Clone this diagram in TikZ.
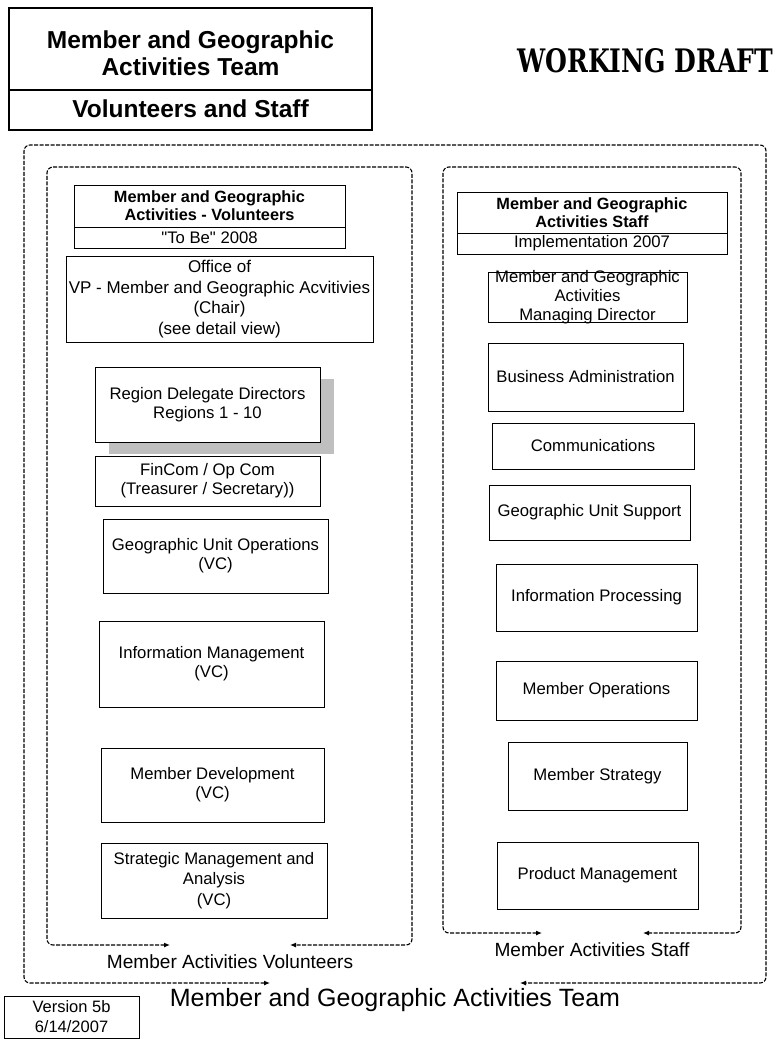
\documentclass[tikz,border=0pt]{standalone}
\usepackage{fontspec}
\setmainfont{Liberation Sans}
\newfontfamily\draftfont{DejaVu Serif}
\usepackage{graphicx}
\usetikzlibrary{arrows.meta}
\usetikzlibrary{shadows}

\tikzset{
  unitbox/.style={draw, line width=1pt, inner sep=0pt, align=center, fill=white,
    font=\fontsize{16.7}{19}\selectfont},
  headtext/.style={unitbox, font=\fontsize{16.3}{18}\selectfont\bfseries},
  titlebox/.style={draw, line width=1.1pt, inner sep=0pt, minimum width=363pt},
  titletext/.style={inner sep=0pt, align=center, font=\fontsize{24.5}{27}\selectfont\bfseries},
  framepath/.style={line width=1.1pt, dash pattern=on 4pt off 1.5pt, rounded corners=6pt,
    {Latex[length=6pt,width=5pt]}-{Latex[length=6pt,width=5pt]}},
  framelabel/.style={inner sep=0pt, font=\fontsize{19.1}{21}\selectfont}
}

\begin{document}
\begin{tikzpicture}[x=1pt,y=-1pt]
\useasboundingbox (0,0) rectangle (776,1039);

% title block
\node[titlebox, minimum height=82pt] (teamtitle) at (190.5,49) {};
\node[titletext] (teamtitletext) at (190.5,53.5) {Member and Geographic\\Activities Team};
\node[titlebox, minimum height=40pt] (teamsub) at (190.5,110) {};
\node[titletext] (teamsubtext) at (190.5,109) {Volunteers and Staff};
\node[inner sep=0pt, anchor=north west] (draft) at (517,48) {\resizebox{256pt}{24pt}{\draftfont\bfseries WORKING DRAFT}};

% frames
\coordinate (teamL) at (270,983);
\coordinate (teamR) at (520,983);
\draw[framepath] (teamL) -- (24,983) -- (24,145) -- (766,145) -- (766,983) -- (teamR);
\coordinate (volL) at (170,945);
\coordinate (volR) at (290,945);
\draw[framepath] (volL) -- (47,945) -- (47,167) -- (412,167) -- (412,945) -- (volR);
\coordinate (staffL) at (542,933);
\coordinate (staffR) at (643,933);
\draw[framepath] (staffL) -- (443,933) -- (443,167) -- (741,167) -- (741,933) -- (staffR);
\node[framelabel] (vollabel) at (230,962) {Member Activities Volunteers};
\node[framelabel] (stafflabel) at (592,950) {Member Activities Staff};
\node[framelabel, font=\fontsize{25}{27}\selectfont] (teamlabel) at (395,1000) {Member and Geographic Activities Team};

% volunteers
\node[headtext, minimum width=271pt, minimum height=42pt] (volhead) at (209.5,206) {Member and Geographic\\Activities - Volunteers};
\node[unitbox, minimum width=271pt, minimum height=21pt] (voltobe) at (209.5,237.5) {\textquotedbl To Be\textquotedbl{} 2008};
\node[unitbox, minimum width=307pt, minimum height=86pt, font=\fontsize{17}{20.5}\selectfont] (office) at (219.5,299) {Office of\\VP - Member and Geographic Acvitivies\\(Chair)\\(see detail view)};
\node[unitbox, minimum width=225pt, minimum height=75pt,
  drop shadow={shadow xshift=13.5pt, shadow yshift=-12pt, fill=black!25, opacity=1}] (region) at (207.5,404.5) {Region Delegate Directors\\Regions 1 - 10};
\node[unitbox, minimum width=225pt, minimum height=50pt] (fincom) at (207.5,481) {FinCom / Op Com\\(Treasurer / Secretary))};
\node[unitbox, minimum width=225pt, minimum height=74pt] (geoops) at (215.5,556) {Geographic Unit Operations\\(VC)};
\node[unitbox, minimum width=225pt, minimum height=86pt] (infomgmt) at (211.5,664) {Information Management\\(VC)};
\node[unitbox, minimum width=223pt, minimum height=74pt] (memdev) at (212.5,785) {Member Development\\(VC)};
\node[unitbox, minimum width=226pt, minimum height=75pt, font=\fontsize{16.7}{20.5}\selectfont] (stratmgmt) at (214,880.5) {Strategic Management and\\Analysis\\(VC)};

% staff
\node[headtext, minimum width=270pt, minimum height=41pt] (staffhead) at (592,212.5) {Member and Geographic\\Activities Staff};
\node[unitbox, minimum width=270pt, minimum height=21pt] (staffimpl) at (592,243.5) {Implementation 2007};
\node[unitbox, minimum width=199pt, minimum height=50pt] (mgdir) at (587.5,297) {};
\node[inner sep=0pt, align=center, font=\fontsize{16.7}{19}\selectfont] (mgdirtext) at (mgdir.center) {Member and Geographic\\Activities\\Managing Director};
\node[unitbox, minimum width=195pt, minimum height=68pt] (bizadmin) at (585.5,377) {Business Administration};
\node[unitbox, minimum width=202pt, minimum height=46pt] (comms) at (593,446) {Communications};
\node[unitbox, minimum width=201pt, minimum height=55pt] (geosupp) at (589.5,512.5) {Geographic Unit Support};
\node[unitbox, minimum width=201pt, minimum height=67pt] (infoproc) at (596.5,597.5) {Information Processing};
\node[unitbox, minimum width=201pt, minimum height=59pt] (memops) at (596.5,690.5) {Member Operations};
\node[unitbox, minimum width=179pt, minimum height=68pt] (memstrat) at (597.5,776) {Member Strategy};
\node[unitbox, minimum width=201pt, minimum height=67pt] (prodmgmt) at (597.5,875.5) {Product Management};

% version stamp
\node[unitbox, line width=0.8pt, minimum width=135pt, minimum height=42pt, font=\fontsize{16.5}{20}\selectfont] (version) at (71.5,1017) {Version 5b\\6/14/2007};
\end{tikzpicture}
\end{document}
